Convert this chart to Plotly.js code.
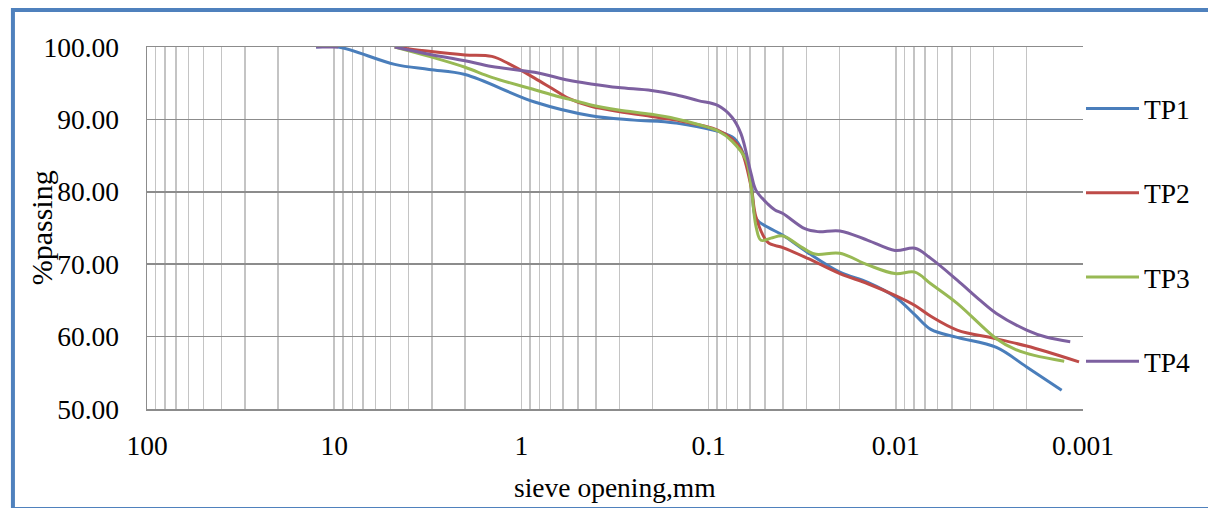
<!DOCTYPE html>
<html>
<head>
<meta charset="utf-8">
<script src="https://cdn.plot.ly/plotly-3.0.1.min.js"></script>
<style>
  html, body { margin: 0; padding: 0; background: #ffffff; }
  #chart { width: 1208px; height: 508px; }
</style>
</head>
<body>
<div id="chart"></div>
<script>
// ---- data: sieve opening (mm) vs % passing ----
const seriesNames = ['TP1', 'TP2', 'TP3', 'TP4'];

const tp1Size = [12.5, 9.5, 4.75, 3.11, 2.0, 0.85, 0.425, 0.25, 0.15, 0.075, 0.0671, 0.0593, 0.0558, 0.0482, 0.0401, 0.0295, 0.0199, 0.0141, 0.0101, 0.0079, 0.0065, 0.0047, 0.0029, 0.0020, 0.0013];
const tp1Pass = [100, 100, 97.6, 96.9, 96.2, 92.4, 90.5, 89.9, 89.5, 87.6, 86.0, 81.5, 76.3, 75.1, 74.0, 71.6, 68.9, 67.5, 65.5, 63.0, 61.0, 59.9, 58.5, 55.8, 52.6];

const tp2Size = [4.75, 3.11, 2.0, 1.44, 1.17, 0.85, 0.689, 0.559, 0.425, 0.303, 0.202, 0.15, 0.0889, 0.075, 0.0671, 0.0593, 0.0558, 0.0482, 0.0401, 0.0295, 0.0199, 0.0141, 0.0101, 0.0079, 0.0065, 0.0047, 0.0029, 0.0020, 0.00156, 0.00105];
const tp2Pass = [100, 99.4, 98.9, 98.7, 97.7, 95.7, 94.3, 92.9, 91.8, 91.1, 90.4, 89.9, 88.5, 87.3, 85.8, 80.7, 76.5, 73.0, 72.3, 70.8, 68.7, 67.3, 65.7, 64.3, 62.8, 60.9, 59.7, 58.7, 57.9, 56.5];

const tp3Size = [4.75, 3.11, 2.0, 1.44, 0.85, 0.689, 0.559, 0.425, 0.303, 0.202, 0.15, 0.1136, 0.0889, 0.075, 0.0631, 0.0593, 0.0558, 0.0525, 0.0464, 0.0401, 0.0321, 0.0271, 0.0199, 0.0141, 0.0101, 0.0079, 0.0065, 0.0047, 0.0029, 0.00233, 0.00182, 0.00126];
const tp3Pass = [100, 98.7, 97.2, 95.8, 94.1, 93.4, 92.8, 92.0, 91.3, 90.7, 90.1, 89.3, 88.4, 87.0, 84.4, 80.7, 75.2, 73.3, 73.6, 73.9, 72.4, 71.4, 71.5, 69.9, 68.7, 68.9, 67.3, 64.6, 59.7, 58.3, 57.4, 56.6];

const tp4Size = [12.5, 9.5, null, 4.75, 3.11, 2.0, 1.44, 0.85, 0.559, 0.425, 0.303, 0.202, 0.15, 0.1136, 0.0889, 0.075, 0.0671, 0.0593, 0.0558, 0.0482, 0.0442, 0.0401, 0.0306, 0.0261, 0.0199, 0.0141, 0.0101, 0.0079, 0.0065, 0.0047, 0.00354, 0.0029, 0.0020, 0.00156, 0.00117];
const tp4Pass = [100, 100, null, 100, 99.0, 98.1, 97.3, 96.5, 95.4, 94.9, 94.4, 94.0, 93.4, 92.6, 91.9, 90.3, 88.0, 82.5, 80.2, 78.3, 77.5, 77.0, 74.9, 74.5, 74.6, 73.3, 71.9, 72.2, 70.8, 67.8, 65.0, 63.2, 60.9, 59.9, 59.3];

const decades = [100, 10, 1, 0.1, 0.01, 0.001];
const decadeLabels = ['100', '10', '1', '0.1', '0.01', '0.001'];
const yTicks = [50, 60, 70, 80, 90, 100];

const xTitle = 'sieve opening,mm';
const yTitle = '%passing';

// ---- styling ----
const colors = ['#4A7EBB', '#BE4B48', '#98B954', '#7D60A0'];
const sizes = [tp1Size, tp2Size, tp3Size, tp4Size];
const passes = [tp1Pass, tp2Pass, tp3Pass, tp4Pass];
const FONT = 'Liberation Serif';
const FS = 27.5;

const traces = seriesNames.map((n, i) => ({
  type: 'scatter',
  mode: 'lines',
  name: n,
  x: sizes[i],
  y: passes[i],
  connectgaps: false,
  legendgroup: 'g' + i,
  line: { color: colors[i], width: 3, shape: 'spline', smoothing: 1 }
}));

// gridline positions: each decade and its 2..9 subdivisions
const gridVals = [];
const gridText = [];
decades.forEach((d, k) => {
  gridVals.push(d);
  gridText.push(decadeLabels[k]);
  if (k < decades.length - 1) {
    for (let m = 9; m >= 2; m--) {
      gridVals.push(d / 10 * m);
      gridText.push('');
    }
  }
});

const L = 147, R = 122, T = 47, B = 99, W = 1208, H = 508;
const pw = W - L - R, ph = H - T - B;
const px2paperX = p => (p - L) / pw;
const py2paperY = p => 1 - (p - T) / ph;

const layout = {
  width: W, height: H,
  margin: { l: L, r: R, t: T, b: B, pad: 0 },
  paper_bgcolor: '#ffffff',
  plot_bgcolor: '#ffffff',
  font: { family: FONT, color: '#000000', size: FS },
  showlegend: true,
  legend: {
    x: px2paperX(1084), xanchor: 'left',
    y: py2paperY(84), yanchor: 'top',
    font: { family: FONT, size: FS, color: '#000000' },
    tracegroupgap: 45.5,
    itemwidth: 53,
    bgcolor: 'rgba(0,0,0,0)',
    borderwidth: 0
  },
  xaxis: {
    type: 'log',
    range: [2, -3],
    tickmode: 'array',
    tickvals: gridVals,
    ticktext: gridText,
    ticks: '',
    showgrid: true,
    gridcolor: '#C4C4C4',
    gridwidth: 1.5,
    showline: true,
    linecolor: '#8C8C8C',
    linewidth: 1.5,
    mirror: true,
    zeroline: false,
    ticklabelstandoff: 11,
    tickfont: { family: FONT, size: FS, color: '#000000' }
  },
  yaxis: {
    range: [50, 100],
    tickmode: 'array',
    tickvals: yTicks,
    tickformat: '.2f',
    ticks: '',
    showgrid: true,
    gridcolor: '#8C8C8C',
    gridwidth: 1.5,
    showline: true,
    linecolor: '#8C8C8C',
    linewidth: 1.5,
    zeroline: false,
    ticklabelstandoff: 21,
    tickfont: { family: FONT, size: FS, color: '#000000' }
  },
  annotations: [
    {
      text: xTitle, showarrow: false,
      xref: 'paper', yref: 'paper',
      x: 0.5, y: py2paperY(487), xanchor: 'center', yanchor: 'middle',
      font: { family: FONT, size: FS, color: '#000000' }
    },
    {
      text: yTitle, showarrow: false, textangle: -90,
      xref: 'paper', yref: 'paper',
      x: px2paperX(41), y: 0.5, xanchor: 'center', yanchor: 'middle',
      font: { family: FONT, size: 30, color: '#000000' }
    }
  ],
  shapes: [
    {
      type: 'rect', xref: 'paper', yref: 'paper', layer: 'above',
      x0: px2paperX(12.5), x1: px2paperX(1222),
      y0: py2paperY(509), y1: py2paperY(10),
      line: { color: '#4F81BD', width: 4 },
      fillcolor: 'rgba(0,0,0,0)'
    }
  ]
};

Plotly.newPlot('chart', traces, layout, { staticPlot: true, displayModeBar: false });
</script>
</body>
</html>
